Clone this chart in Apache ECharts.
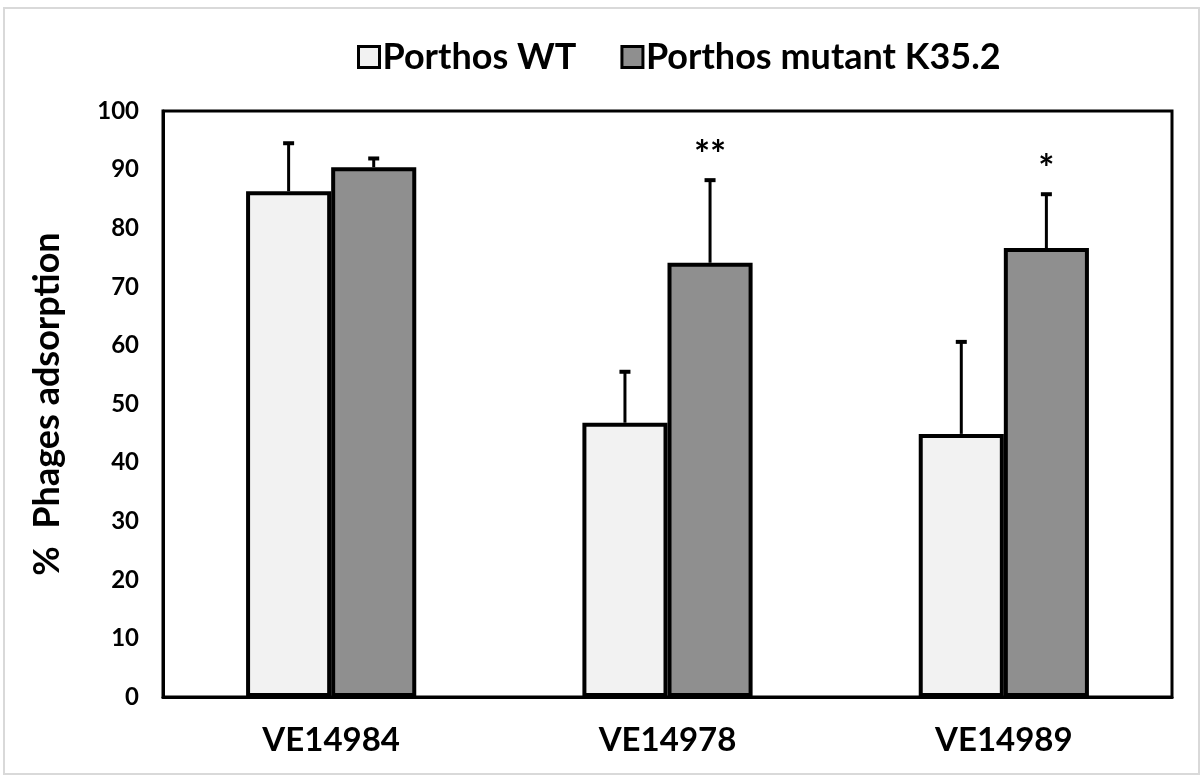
<!DOCTYPE html>
<html>
<head>
<meta charset="utf-8">
<script src="https://cdn.jsdelivr.net/npm/echarts@6/dist/echarts.min.js"></script>
<style>html,body{margin:0;padding:0;background:#fff;}#c{width:1204px;height:778px;}</style>
</head>
<body>
<div id="c"></div>
<script>
var categories = ['VE14984', 'VE14978', 'VE14989'];
var seriesNames = ['Porthos WT', 'Porthos mutant K35.2'];
var wtValues = [86.3, 46.8, 44.9];
var wtErrors = [8.2, 8.7, 15.7];
var mutValues = [90.4, 74.1, 76.6];
var mutErrors = [1.5, 14.1, 9.2];
var mutStars = ['', '**', '*'];
var yTicks = [0, 100, 10];

var FONT = 'Lato, "Open Sans", sans-serif';
var BARW = 0.253;

function errData(vals, errs, side, stars) {
  return vals.map(function (v, i) { return [i, v, errs[i], side, stars ? stars[i] : '']; });
}

function renderErr(params, api) {
  var ci = api.value(0), v = api.value(1), e = api.value(2), side = api.value(3);
  var star = api.value(4);
  var band = api.size([1, 0])[0];
  var base = api.coord([ci, v]);
  var topP = api.coord([ci, v + e]);
  var x = base[0] + side * band * BARW / 2;
  var children = [
    {type: 'line', shape: {x1: x, y1: base[1], x2: x, y2: topP[1]}, style: {stroke: '#000', lineWidth: 3}},
    {type: 'line', shape: {x1: x - 5.5, y1: topP[1], x2: x + 5.5, y2: topP[1]}, style: {stroke: '#000', lineWidth: 4}}
  ];
  if (star) {
    children.push({type: 'text', style: {text: star, x: x, y: topP[1] - 24, align: 'center', verticalAlign: 'middle', font: 'bold 38px ' + FONT, fill: '#000'}});
  }
  return {type: 'group', children: children};
}

var chart = echarts.init(document.getElementById('c'), null, {renderer: 'canvas'});
chart.setOption({
  animation: false,
  backgroundColor: '#fff',
  graphic: [{type: 'rect', shape: {x: 4, y: 8, width: 1195, height: 766}, style: {fill: 'none', stroke: '#d9d9d9', lineWidth: 2}, z: -10}],
  legend: {
    top: 34, left: 352,
    icon: 'rect',
    itemWidth: 21, itemHeight: 21, itemGap: 44,
    textStyle: {fontFamily: FONT, fontWeight: 'bold', fontSize: 36, color: '#000', padding: [0, 0, 0, -2]},
    data: seriesNames.map(function (n) { return {name: n, itemStyle: {borderColor: '#000', borderWidth: 3}}; })
  },
  grid: {left: 163, right: 32, top: 111, bottom: 81, show: true, borderColor: '#000', borderWidth: 3},
  xAxis: {
    type: 'category', data: categories,
    axisLine: {lineStyle: {color: '#000', width: 3}},
    axisTick: {show: false},
    axisLabel: {fontFamily: FONT, fontWeight: 'bold', fontSize: 33, color: '#000', margin: 27}
  },
  yAxis: {
    type: 'value', min: yTicks[0], max: yTicks[1], interval: yTicks[2],
    name: '%  Phages adsorption', nameLocation: 'middle', nameGap: 98,
    nameTextStyle: {fontFamily: FONT, fontWeight: 'bold', fontSize: 36, color: '#000'},
    axisLine: {show: true, lineStyle: {color: '#000', width: 3}},
    axisTick: {show: false},
    splitLine: {show: false},
    axisLabel: {fontFamily: FONT, fontWeight: 'bold', fontSize: 24, color: '#000', margin: 24}
  },
  series: [
    {name: seriesNames[0], type: 'bar', data: wtValues, barWidth: (BARW * 100) + '%', barGap: '0%',
      itemStyle: {color: '#f2f2f2', borderColor: '#000', borderWidth: 4}},
    {name: seriesNames[1], type: 'bar', data: mutValues, barWidth: (BARW * 100) + '%', barGap: '0%',
      itemStyle: {color: '#8f8f8f', borderColor: '#000', borderWidth: 4}},
    {type: 'custom', renderItem: renderErr, data: errData(wtValues, wtErrors, -1), z: 5, silent: true},
    {type: 'custom', renderItem: renderErr, data: errData(mutValues, mutErrors, 1, mutStars), z: 5, silent: true}
  ]
});
</script>
</body>
</html>
